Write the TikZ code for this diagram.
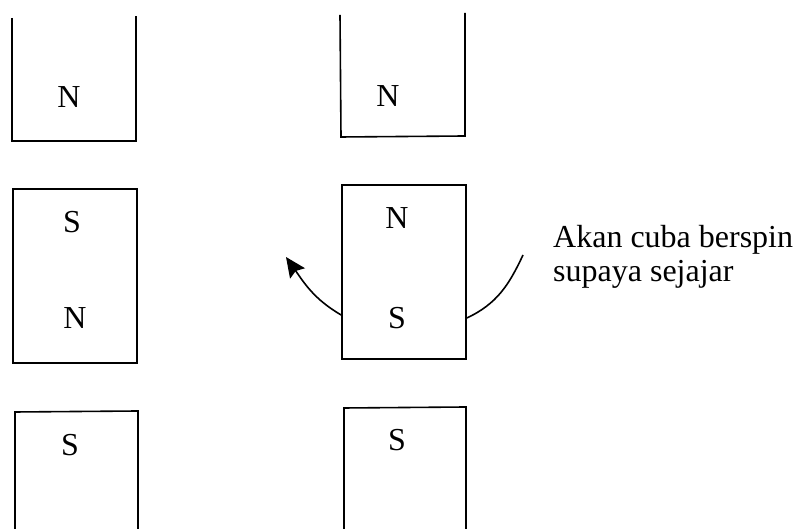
\documentclass[tikz,border=0pt]{standalone}
\usepackage{fontspec}
\setmainfont{Liberation Serif}
\usetikzlibrary{arrows.meta}
\begin{document}
\begin{tikzpicture}[x=1pt,y=1pt,
  magline/.style={line width=1.6pt, line join=miter},
  pole/.style={inner sep=0pt, font=\fontsize{32}{36}\selectfont},
  lbl/.style={inner sep=0pt, anchor=base west, font=\fontsize{32}{36}\selectfont},
  magbox/.style={draw, line width=1.6pt, rectangle, inner sep=0pt},
  spin/.style={line width=1.6pt}]
\useasboundingbox (0,0) rectangle (801,529);
% top magnets (open at top)
\draw[magline] (12,511) -- (12,388) -- (136,388) -- (136,513);
\draw[magline] (340,514) -- (341,392) -- (465,393) -- (465,516);
\node[pole] (tlN) at (69,432) {N};
\node[pole] (trN) at (388,433) {N};
% middle magnets
\node[magbox, minimum width=124pt, minimum height=174pt] (ML) at (75,253) {};
\node[magbox, minimum width=124pt, minimum height=174pt] (MR) at (404,257) {};
\node[pole] (mlS) at (72,307) {S};
\node[pole] (mlN) at (75,211) {N};
\node[pole] (mrN) at (397,311) {N};
\node[pole] (mrS) at (397,211) {S};
% bottom magnets (open at bottom)
\draw[magline] (15,-2) -- (15,117) -- (138,118) -- (138,-2);
\draw[magline] (344,-2) -- (344,121) -- (466,122) -- (466,-2);
\node[pole] (blS) at (70,84) {S};
\node[pole] (brS) at (397,89) {S};
% spin arrows
\coordinate (lend) at (286,272);
\coordinate (rend) at (523,274);
\draw[spin, -{Stealth[length=20pt,width=18pt,inset=3pt]}] ([yshift=-43pt]MR.west) to[out=150,in=-55] (lend);
\draw[spin] ([yshift=-46pt]MR.east) to[out=25,in=245] (rend);
% label
\node[lbl] (t1) at (553,281) {Akan cuba berspin};
\node[lbl] (t2) at (553,247) {supaya sejajar};
\end{tikzpicture}
\end{document}
